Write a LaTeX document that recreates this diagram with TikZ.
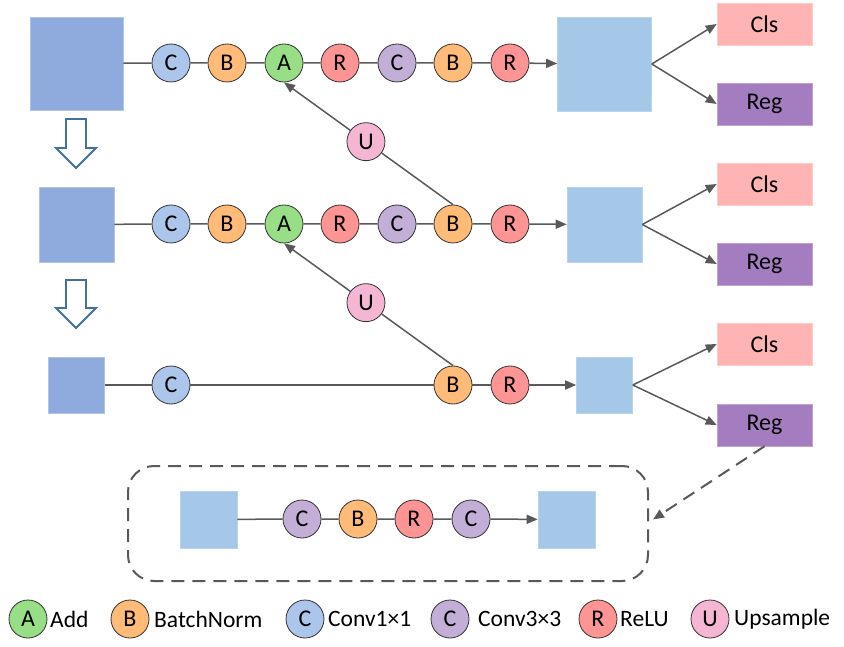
\documentclass[tikz,border=0pt]{standalone}
\usepackage{fontspec}
\setmainfont{Carlito}
\usetikzlibrary{arrows.meta,calc}
\definecolor{inbox}{HTML}{8FAADC}
\definecolor{outbox}{HTML}{A6C8E8}
\definecolor{clsc}{HTML}{FFB3B3}
\definecolor{regc}{HTML}{A47CC0}
\definecolor{cblue}{HTML}{ABC6EA}
\definecolor{corange}{HTML}{FFBB77}
\definecolor{cgreen}{HTML}{97DE86}
\definecolor{cred}{HTML}{FF9494}
\definecolor{cpurple}{HTML}{C2AED6}
\definecolor{cpink}{HTML}{F4B6D3}
\definecolor{linec}{HTML}{595959}
\definecolor{hollowc}{HTML}{41719C}
\tikzset{
  op/.style={circle,draw=black!80,line width=0.8pt,minimum size=38pt,inner sep=0pt,font=\fontsize{24}{28}\selectfont},
  opA/.style={op,fill=cgreen},
  opB/.style={op,fill=corange},
  opC/.style={op,fill=cblue},
  opD/.style={op,fill=cpurple},
  opR/.style={op,fill=cred},
  opU/.style={op,fill=cpink},
  fin/.style={rectangle,fill=inbox,draw=inbox!70!white,line width=0.6pt,inner sep=0pt},
  fout/.style={rectangle,fill=outbox,draw=outbox!80!white,line width=0.6pt,inner sep=0pt},
  clsbox/.style={rectangle,fill=clsc,draw=clsc!70!white,line width=0.6pt,minimum width=95pt,minimum height=42pt,inner sep=0pt,font=\fontsize{24}{28}\selectfont},
  regbox/.style={rectangle,fill=regc,draw=regc!70!white,line width=0.6pt,minimum width=95pt,minimum height=42pt,inner sep=0pt,font=\fontsize{24}{28}\selectfont},
  conn/.style={draw=linec,line width=1.5pt},
  arr/.style={conn,-{Triangle[length=11pt,width=9pt]}},
  hollow/.style={draw=hollowc,line width=1.8pt,fill=white,line join=miter},
  legtext/.style={anchor=west,inner sep=0pt,font=\fontsize{23.5}{28}\selectfont},
}
\begin{document}
\begin{tikzpicture}[x=1pt,y=-1pt]
\useasboundingbox (0,0) rectangle (844,647);
% ---------- row 1 ----------
\node[fin,minimum size=93pt] (in1) at (76.5,63.5) {};
\node[opC] (c11) at (171,63) {C};
\node[opB] (b11) at (227,63) {B};
\node[opA] (a1) at (284,63) {A};
\node[opR] (r11) at (340,63) {R};
\node[opD] (d1) at (397,63) {C};
\node[opB] (b12) at (453,63) {B};
\node[opR] (r12) at (510,63) {R};
\node[fout,minimum size=94pt] (out1) at (604.5,64) {};
\node[clsbox] (cls1) at (764.5,24) {Cls};
\node[regbox] (reg1) at (764.5,104) {Reg};
% ---------- row 2 ----------
\node[fin,minimum size=75pt] (in2) at (76.5,224.5) {};
\node[opC] (c21) at (171,224) {C};
\node[opB] (b21) at (227,224) {B};
\node[opA] (a2) at (284,224) {A};
\node[opR] (r21) at (340,224) {R};
\node[opD] (d2) at (397,224) {C};
\node[opB] (b22) at (453,224) {B};
\node[opR] (r22) at (510,224) {R};
\node[fout,minimum size=75pt] (out2) at (604.5,224.5) {};
\node[clsbox] (cls2) at (764.5,184) {Cls};
\node[regbox] (reg2) at (764.5,264) {Reg};
% ---------- row 3 ----------
\node[fin,minimum size=56pt] (in3) at (76.5,385) {};
\node[opC] (c31) at (171,385) {C};
\node[opB] (b32) at (453,385) {B};
\node[opR] (r32) at (510,385) {R};
\node[fout,minimum size=56pt] (out3) at (604.5,385) {};
\node[clsbox] (cls3) at (764.5,344) {Cls};
\node[regbox] (reg3) at (764.5,425) {Reg};
% ---------- upsample nodes ----------
\node[opU] (u1) at ($(b22.north)!0.515!(a1.south)$) {U};
\node[opU] (u2) at ($(b32.north)!0.515!(a2.south)$) {U};
% ---------- row connectors ----------
\draw[conn] (in1) -- (c11) -- (b11) -- (a1) -- (r11) -- (d1) -- (b12) -- (r12);
\draw[arr] (r12) -- (out1);
\draw[conn] (in2) -- (c21) -- (b21) -- (a2) -- (r21) -- (d2) -- (b22) -- (r22);
\draw[arr] (r22) -- (out2);
\draw[conn] (in3) -- (c31) -- (b32) -- (r32);
\draw[arr] (r32) -- (out3);
% heads
\draw[arr] (out1.east) -- (cls1.west);
\draw[arr] (out1.east) -- (reg1.west);
\draw[arr] (out2.east) -- (cls2.west);
\draw[arr] (out2.east) -- (reg2.west);
\draw[arr] (out3.east) -- (cls3.west);
\draw[arr] (out3.east) -- (reg3.west);
% upsample paths
\draw[conn] (b22.north) -- (u1);
\draw[arr] (u1) -- (a1.south);
\draw[conn] (b32.north) -- (u2);
\draw[arr] (u2) -- (a2.south);
% ---------- hollow down arrows ----------
\draw[hollow] (66,119) -- (86,119) -- (86,148) -- (96,148) -- (76,168) -- (56,148) -- (66,148) -- cycle;
\draw[hollow] (66,280) -- (86,280) -- (86,308) -- (96,308) -- (76,328) -- (56,308) -- (66,308) -- cycle;
% ---------- detail box ----------
\node[draw=linec,line width=2pt,dash pattern=on 13pt off 8pt,rounded corners=26pt,minimum width=520pt,minimum height=115pt,inner sep=0pt] (frame) at (388,523.5) {};
\node[fout,minimum size=57pt] (hin) at (208.5,519.5) {};
\node[opD] (h1) at (302,519) {C};
\node[opB] (h2) at (358,519) {B};
\node[opR] (h3) at (414,519) {R};
\node[opD] (h4) at (471,519) {C};
\node[fout,minimum size=57pt] (hout) at (566.5,519.5) {};
\draw[conn] (hin) -- (h1) -- (h2) -- (h3) -- (h4);
\draw[arr] (h4) -- (hout);
\draw[conn,line width=2pt,dash pattern=on 13pt off 8pt,-{Triangle[length=11pt,width=9pt]}] (reg3.south) -- ($(frame.east)+(4,-4)$);
% ---------- legend ----------
\node[opA] (lA) at (28,619) {A};
\node[legtext] (tA) at (50,619) {Add};
\node[opB] (lB) at (130,619) {B};
\node[legtext] (tB) at (154,619) {BatchNorm};
\node[opC] (lC) at (305,619) {C};
\node[legtext] (tC) at (328,619) {Conv1×1};
\node[opD] (lD) at (450,619) {C};
\node[legtext] (tD) at (478,619) {Conv3×3};
\node[opR] (lR) at (598,619) {R};
\node[legtext] (tR) at (620,619) {ReLU};
\node[opU] (lU) at (710,619) {U};
\node[legtext] (tU) at (734,619) {Upsample};
\end{tikzpicture}
\end{document}
